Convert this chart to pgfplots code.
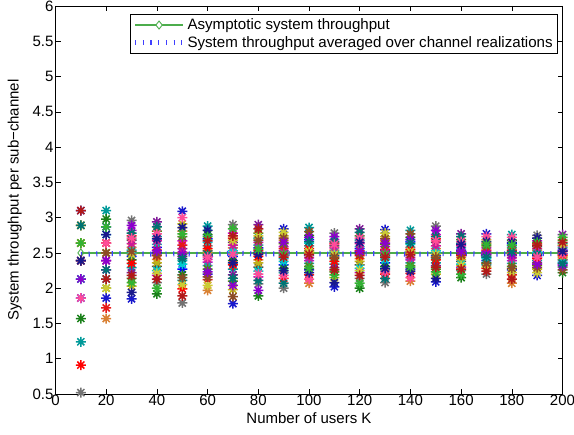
\documentclass[border=0pt]{standalone}
\usepackage{fontspec}
\setmainfont{Liberation Sans}
\usepackage{pgfplots}
\usepackage{pgfplotstable}
\pgfplotsset{compat=1.18}

\definecolor{c1}{rgb}{0.80,0.00,0.80}
\definecolor{c2}{rgb}{0.00,0.00,1.00}
\definecolor{c3}{rgb}{0.10,0.10,0.80}
\definecolor{c4}{rgb}{0.30,0.30,0.30}
\definecolor{c5}{rgb}{0.00,0.60,0.60}
\definecolor{c6}{rgb}{0.85,0.50,0.20}
\definecolor{c7}{rgb}{0.50,0.10,0.60}
\definecolor{c8}{rgb}{0.45,0.45,0.45}
\definecolor{c9}{rgb}{0.10,0.65,0.65}
\definecolor{c10}{rgb}{0.75,0.70,0.10}
\definecolor{c11}{rgb}{0.10,0.50,0.10}
\definecolor{c12}{rgb}{0.90,0.10,0.10}
\definecolor{c13}{rgb}{0.00,0.80,0.80}
\definecolor{c14}{rgb}{0.35,0.50,0.10}
\definecolor{c15}{rgb}{1.00,0.00,0.00}
\definecolor{c16}{rgb}{0.80,0.10,0.60}
\definecolor{c17}{rgb}{0.80,0.80,0.20}
\definecolor{c18}{rgb}{0.55,0.30,0.15}
\definecolor{c19}{rgb}{0.55,0.00,0.80}
\definecolor{c20}{rgb}{0.00,0.45,0.45}
\definecolor{c21}{rgb}{1.00,0.30,0.60}
\definecolor{c22}{rgb}{0.10,0.10,0.55}
\definecolor{c23}{rgb}{0.20,0.70,0.20}
\definecolor{c24}{rgb}{0.70,0.10,0.10}
\definecolor{asym}{rgb}{0.30,0.68,0.30}
\definecolor{avgc}{rgb}{0.25,0.25,1.00}

\pgfdeclareplotmark{mstar}{%
 \pgfpathmoveto{\pgfqpoint{0pt}{\pgfplotmarksize}}\pgfpathlineto{\pgfqpoint{0pt}{-\pgfplotmarksize}}%
 \pgfpathmoveto{\pgfqpoint{\pgfplotmarksize}{0pt}}\pgfpathlineto{\pgfqpoint{-\pgfplotmarksize}{0pt}}%
 \pgfpathmoveto{\pgfqpoint{0.707\pgfplotmarksize}{0.707\pgfplotmarksize}}\pgfpathlineto{\pgfqpoint{-0.707\pgfplotmarksize}{-0.707\pgfplotmarksize}}%
 \pgfpathmoveto{\pgfqpoint{-0.707\pgfplotmarksize}{0.707\pgfplotmarksize}}\pgfpathlineto{\pgfqpoint{0.707\pgfplotmarksize}{-0.707\pgfplotmarksize}}%
 \pgfusepathqstroke}

\pgfplotstableread{
K r1 r2 r3 r4 r5 r6 r7 r8 r9 r10 r11 r12 r13 r14 r15 r16 r17 r18 r19 r20 r21 r22 r23 r24
10 2.64 1.86 3.10 2.39 1.24 2.89 2.39 0.52 2.13 2.89 1.57 2.64 2.13 2.64 0.91 2.39 2.64 2.39 2.13 2.89 1.86 2.39 2.64 3.10
20 2.26 2.87 1.86 2.50 3.10 1.57 2.39 2.64 2.13 2.50 2.98 1.72 2.76 2.00 2.64 2.39 2.00 2.50 2.39 2.26 2.64 2.76 2.87 2.13
30 2.82 2.45 1.85 2.68 2.29 2.58 2.22 2.96 2.50 2.03 2.40 2.74 2.54 2.14 2.35 2.63 2.48 2.52 2.89 2.78 2.71 1.94 2.08 2.18
40 2.18 2.58 2.50 2.31 2.73 2.41 2.94 2.08 2.62 2.36 1.92 2.54 2.25 2.81 2.46 2.67 2.21 2.47 2.53 2.87 2.77 2.70 2.00 2.13
50 2.67 2.27 3.09 2.45 2.11 2.81 2.56 1.79 2.39 2.91 2.19 2.61 2.34 2.73 1.99 2.51 2.05 2.15 2.48 2.42 3.00 2.86 2.77 1.89
60 2.37 2.70 2.20 2.53 2.88 1.97 2.46 2.60 2.32 2.50 2.76 2.12 2.65 2.27 2.56 2.41 2.04 2.16 2.23 2.48 2.44 2.82 2.73 2.67
70 2.78 2.45 1.78 2.65 2.27 2.57 2.19 2.90 2.50 1.98 2.39 2.71 2.53 2.10 2.33 2.61 2.68 1.88 2.04 2.14 2.48 2.36 2.84 2.74
80 2.16 2.57 2.50 2.30 2.71 2.40 2.90 2.06 2.61 2.36 1.89 2.53 2.24 2.78 2.45 2.65 2.74 2.68 1.97 2.11 2.20 2.48 2.55 2.84
90 2.59 2.33 2.84 2.46 2.22 2.68 2.53 2.00 2.42 2.74 2.28 2.56 2.38 2.63 2.14 2.50 2.79 2.71 2.65 2.07 2.18 2.25 2.48 2.44
100 2.39 2.69 2.26 2.53 2.86 2.07 2.46 2.60 2.35 2.50 2.75 2.19 2.64 2.31 2.56 2.43 2.52 2.80 2.72 2.66 2.13 2.22 2.28 2.48
110 2.69 2.46 2.02 2.60 2.34 2.54 2.29 2.78 2.49 2.15 2.42 2.64 2.52 2.23 2.38 2.57 2.48 2.44 2.73 2.66 2.62 2.08 2.19 2.26
120 2.22 2.56 2.50 2.33 2.68 2.42 2.84 2.14 2.59 2.38 2.00 2.53 2.28 2.74 2.46 2.63 2.25 2.48 2.52 2.79 2.71 2.65 2.07 2.18
130 2.59 2.36 2.83 2.46 2.26 2.67 2.53 2.08 2.43 2.73 2.31 2.55 2.40 2.62 2.20 2.50 2.78 2.70 2.64 2.14 2.23 2.28 2.48 2.44
140 2.40 2.66 2.27 2.52 2.82 2.10 2.46 2.58 2.36 2.49 2.72 2.21 2.62 2.32 2.55 2.43 2.52 2.77 2.69 2.64 2.15 2.24 2.30 2.48
150 2.76 2.46 2.09 2.65 2.36 2.56 2.32 2.88 2.50 2.20 2.43 2.70 2.53 2.27 2.40 2.60 2.48 2.44 2.82 2.73 2.67 2.14 2.23 2.30
160 2.30 2.54 2.49 2.38 2.64 2.44 2.77 2.25 2.57 2.41 2.15 2.52 2.34 2.69 2.47 2.60 2.32 2.48 2.52 2.73 2.66 2.62 2.20 2.27
170 2.57 2.39 2.77 2.47 2.33 2.64 2.52 2.20 2.44 2.69 2.36 2.54 2.42 2.60 2.28 2.49 2.30 2.35 2.48 2.44 2.73 2.66 2.62 2.24
180 2.39 2.63 2.26 2.52 2.76 2.07 2.46 2.57 2.35 2.49 2.68 2.19 2.60 2.31 2.54 2.43 2.22 2.28 2.48 2.52 2.72 2.65 2.61 2.13
190 2.67 2.47 2.18 2.59 2.39 2.54 2.36 2.75 2.49 2.27 2.44 2.63 2.51 2.32 2.42 2.56 2.22 2.29 2.34 2.48 2.44 2.71 2.65 2.61
200 2.34 2.54 2.49 2.40 2.63 2.45 2.76 2.30 2.57 2.43 2.22 2.52 2.37 2.68 2.47 2.60 2.61 2.26 2.32 2.35 2.48 2.52 2.72 2.65
}\realizations

\pgfplotstableread{
K asym avg
10 2.50 2.48
20 2.50 2.49
30 2.50 2.49
40 2.50 2.48
50 2.50 2.49
60 2.50 2.47
70 2.50 2.50
80 2.50 2.48
90 2.50 2.49
100 2.50 2.49
110 2.50 2.48
120 2.50 2.49
130 2.50 2.49
140 2.50 2.48
150 2.50 2.49
160 2.50 2.49
170 2.50 2.48
180 2.50 2.49
190 2.50 2.49
200 2.50 2.49
}\meanlines

\begin{document}
\begin{tikzpicture}
\begin{axis}[
  scale only axis, width=507bp, height=388bp,
  xmin=0, xmax=200, ymin=0.5, ymax=6,
  xtick={0,20,...,200}, ytick={0.5,1,...,6},
  tick align=inside, major tick length=5bp,
  every tick/.style={black, line width=0.5bp},
  axis line style={line width=0.7bp},
  /pgf/number format/assume math mode=true,
  tick label style={font=\fontsize{15bp}{18bp}\selectfont},
  label style={font=\fontsize{15bp}{18bp}\selectfont},
  xticklabel style={yshift=2.5bp},
  yticklabel style={xshift=1.5bp},
  xlabel={Number of users K},
  ylabel={System throughput per sub−channel},
  ylabel shift=4bp,
  legend cell align=left,
  legend style={font=\fontsize{15.1bp}{17bp}\selectfont, draw=black, line width=0.6bp,
    at={(1,1)}, anchor=north east, xshift=-5bp, yshift=-8bp,
    inner xsep=2.5bp, inner ysep=2.5bp, row sep=1.5bp},
]
\addplot[color=asym, line width=1.5bp, mark=diamond, mark size=4bp,
  mark options={solid, fill=white, line width=0.9bp},
  legend image code/.code={\draw[asym, line width=1.2bp] (0bp,0bp) -- (48bp,0bp);
    \draw[asym, line width=0.9bp, fill=white] (24bp,0bp) +(0,4bp) -- +(3.2bp,0) -- +(0,-4bp) -- +(-3.2bp,0) -- cycle;}]
  table[x=K, y=asym]{\meanlines};
\addlegendentry{Asymptotic system throughput}
\addplot[color=avgc, line width=5bp, dash pattern=on 1.2bp off 6.5bp,
  legend image code/.code={\draw[avgc, line width=5bp, dash pattern=on 1.2bp off 6.5bp] (0bp,0bp) -- (48bp,0bp);}]
  table[x=K, y=avg]{\meanlines};
\addlegendentry{System throughput averaged over channel realizations}
\pgfplotsinvokeforeach{1,...,24}{%
  \addplot[forget plot, only marks, mark=mstar, mark size=5bp, color=c#1, line width=1.5bp]
    table[x=K, y=r#1]{\realizations};
}
\end{axis}
\pgfresetboundingbox
\path[use as bounding box] ([shift={(-55.5bp,-41bp)}]current axis.south west) rectangle ([shift={(11.5bp,6bp)}]current axis.north east);
\end{tikzpicture}
\end{document}
